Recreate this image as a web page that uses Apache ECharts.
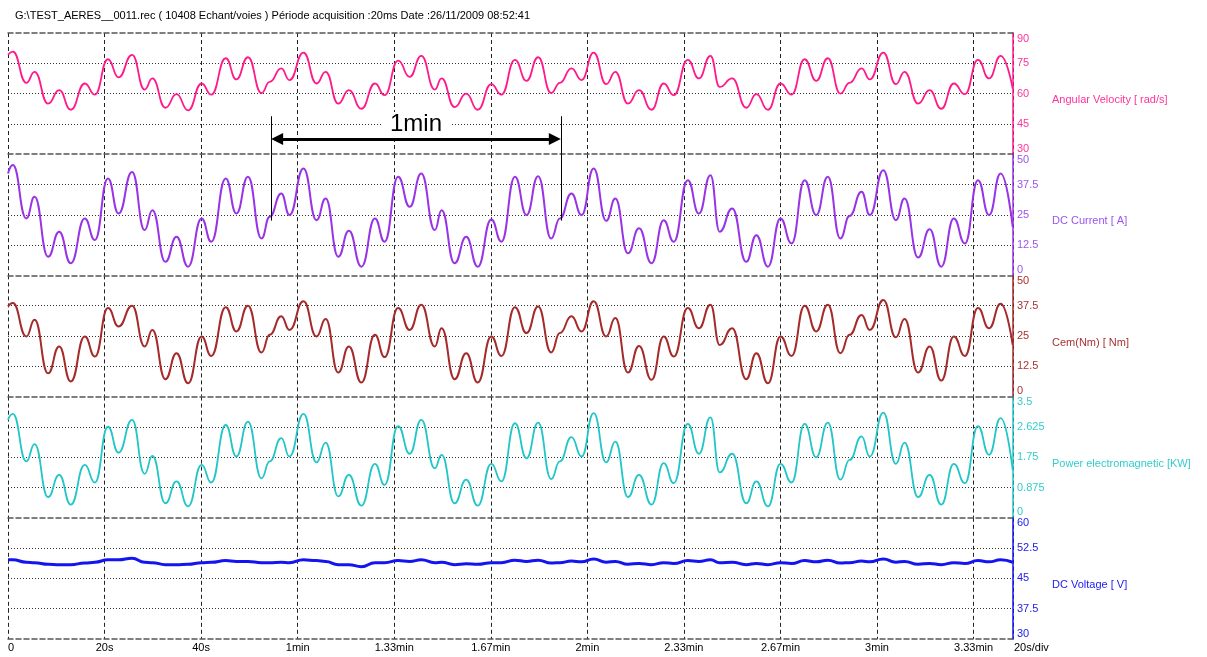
<!DOCTYPE html>
<html>
<head>
<meta charset="utf-8">
<script src="https://cdn.jsdelivr.net/npm/echarts@6/dist/echarts.min.js"></script>
<style>
html,body{margin:0;padding:0;background:#fff;}
#chart{width:1207px;height:657px;}
</style>
</head>
<body>
<div id="chart"></div>
<script>
// ---------------- DATA ----------------
const titleText = 'G:\\TEST_AERES__0011.rec ( 10408 Echant/voies ) Période acquisition :20ms Date :26/11/2009 08:52:41';

// time (s) of the sampled points (turning points of the recorded waveforms)
const times = [
  0, 1.0, 3.8, 5.5, 8.3, 10.6, 13.0, 15.9, 18.0, 20.7, 22.9, 25.7, 28.3, 29.9, 32.6, 34.9, 37.3, 40.1, 42.1, 45.1, 47.3, 49.7,
  52.5, 54.2, 56.6, 58.3, 61.2, 63.9, 65.8, 68.4, 70.6, 73.2, 76.0, 78.0, 80.8, 83.2, 85.6, 88.4, 89.8, 92.5, 94.9, 97.3, 100.1, 102.2,
  105.0, 107.4, 109.8, 112.5, 114.3, 116.7, 118.8, 121.3, 123.9, 125.8, 128.4, 130.7, 133.3, 135.8, 137.9, 140.8, 143.1, 145.5, 147.4, 150.0, 152.9, 155.0,
  157.4, 160.0, 162.3, 165.0, 167.4, 169.8, 172.4, 174.3, 176.8, 178.5, 181.3, 183.9, 185.7, 188.5, 190.9, 193.3, 195.9, 198.2, 200.9, 203.2, 205.6, 208.1
];

const angularVelocity = [
  79.2, 80.8, 65.3, 70.8, 55, 61.7, 52, 65, 59.5, 77, 68, 79.2, 62, 67.5, 53, 59.7, 51.7, 65, 59.5, 77.5, 67, 78,
  60.3, 65.8, 72.5, 66.7, 80.3, 65, 70.8, 55, 61.7, 52.5, 65, 59.2, 76.3, 68.3, 78.7, 62, 67.5, 53.3, 60, 52, 64.7, 59.5,
  76.7, 66.3, 78, 60.3, 65.3, 72.5, 66.7, 80.3, 64.7, 70.8, 55, 61.7, 52, 65, 59.2, 76.7, 67.5, 78.7, 63.3, 67.5, 53, 59.7,
  52, 65, 59.5, 77, 66.3, 77.5, 60, 65.3, 72.5, 67, 80.3, 64.7, 70.8, 55, 61.7, 52.5, 65, 59.7, 76.7, 67.5, 78.7, 62.5
];

const dcCurrent = [
  42, 45.5, 23.5, 32.4, 7.7, 18, 5, 23.5, 14.6, 40, 25.5, 42.7, 18.7, 26.9, 5.6, 15.9, 3.6, 23.5, 13.9, 40, 25.5, 40.7,
  15.2, 24.2, 33.8, 24.9, 44.1, 22.8, 31.7, 7.7, 18.4, 3.6, 23.5, 13.9, 40.7, 28.3, 42, 18.7, 26.9, 5, 15.9, 3.6, 23.1, 13.9,
  40.7, 24.9, 40.9, 15.2, 23.5, 33.8, 24.9, 44.1, 22.5, 31.7, 9.1, 19.4, 5, 22.8, 13.9, 39.3, 25.5, 41.3, 18, 27.6, 5.6, 16.6,
  3.6, 23.5, 13.2, 39.3, 24.9, 40.7, 15.2, 24.5, 34.5, 24.9, 43.4, 22.8, 31.7, 7.4, 19, 3.6, 23.5, 13.2, 39.3, 24.9, 42, 20
];

const torqueCem = [
  37.2, 38.6, 24.8, 31.7, 9.6, 20.7, 6.2, 24.8, 16.5, 36.5, 28.9, 37.5, 20.7, 27.5, 7.2, 17.9, 5.5, 24.8, 16.8, 36.9, 26.9, 37.5,
  18.2, 25.5, 33.1, 27.5, 39.3, 24.8, 32, 9.9, 20.7, 5.8, 25.5, 16.3, 36.5, 27.5, 37.9, 20.7, 28.2, 7.2, 17.9, 5.8, 24.8, 16.8,
  36.9, 26.2, 37.2, 18.2, 26.2, 33.1, 26.9, 39.3, 24.8, 32.4, 9.9, 20.9, 6.9, 24.8, 16.5, 36.5, 28.2, 37.9, 21.3, 28.2, 7.2, 17.9,
  5.5, 24.8, 16.8, 37.5, 26.9, 37.9, 17.9, 25.5, 33.7, 27.5, 39.9, 24.5, 32, 9.9, 20.7, 6.6, 24.8, 16.8, 36.5, 28.2, 38.3, 21.3
];

const powerEm = [
  2.83, 3.0, 1.63, 2.13, 0.6, 1.24, 0.38, 1.53, 1.02, 2.63, 1.88, 2.83, 1.27, 1.79, 0.42, 1.05, 0.33, 1.53, 1.02, 2.68, 1.77, 2.78,
  1.14, 1.63, 2.3, 1.77, 3.0, 1.6, 2.17, 0.62, 1.24, 0.35, 1.56, 0.95, 2.65, 1.85, 2.83, 1.43, 1.82, 0.42, 1.1, 0.35, 1.56, 1.05,
  2.73, 1.72, 2.75, 1.12, 1.63, 2.33, 1.77, 3.02, 1.6, 2.2, 0.6, 1.24, 0.38, 1.58, 1.0, 2.71, 1.85, 2.9, 1.31, 1.85, 0.42, 1.05,
  0.33, 1.56, 1.02, 2.71, 1.75, 2.75, 1.1, 1.67, 2.35, 1.77, 3.04, 1.56, 2.17, 0.6, 1.24, 0.38, 1.56, 1.0, 2.65, 1.82, 2.88, 1.38
];

const dcVoltage = [
  49.6, 49.6, 49.0, 48.9, 48.5, 48.4, 48.4, 48.8, 49.0, 49.6, 49.6, 50.0, 49.0, 48.9, 48.4, 48.4, 48.5, 48.9, 49.0, 49.4, 49.2, 49.2,
  48.9, 48.9, 49.0, 48.9, 49.6, 49.4, 49.2, 48.4, 48.4, 47.9, 48.9, 48.9, 49.4, 49.2, 49.6, 48.9, 49.0, 48.4, 48.6, 48.5, 48.9, 48.9,
  49.5, 49.2, 49.5, 48.8, 48.9, 49.3, 49.1, 49.8, 49.0, 49.2, 48.5, 48.7, 48.4, 48.9, 48.7, 49.4, 49.2, 49.6, 48.9, 49.0, 48.4, 48.7,
  48.4, 48.9, 48.7, 49.4, 49.1, 49.5, 48.8, 48.9, 49.3, 49.1, 49.8, 49.0, 49.2, 48.5, 48.7, 48.4, 48.9, 48.7, 49.4, 49.1, 49.6, 49.0
];

const xTickLabels = ['0', '20s', '40s', '1min', '1.33min', '1.67min', '2min', '2.33min', '2.67min', '3min', '3.33min'];
const xUnitLabel = '20s/div';
const totalSeconds = 208.16; // 10408 samples x 20 ms

const channelNames = ['Angular Velocity [ rad/s]', 'DC Current [ A]', 'Cem(Nm) [ Nm]', 'Power electromagnetic [KW]', 'DC Voltage [ V]'];
const channelValues = [angularVelocity, dcCurrent, torqueCem, powerEm, dcVoltage];
const axisMin = [30, 0, 0, 0, 30];
const axisMax = [90, 50, 50, 3.5, 60];
const axisStep = [15, 12.5, 12.5, 0.875, 7.5];

// annotation "1min" (seconds / axis values)
const spanStart = 54.5, spanEnd = 114.5;

// ---------------- STYLE / LAYOUT ----------------
const lineColors  = ['#ff1a8c', '#9933e6', '#a52a2a', '#22c6c8', '#1414f0'];
const labelColors = ['#ff3399', '#9a55ee', '#a83232', '#33cccc', '#2020ee'];
const FONT = '"Liberation Sans", Arial, sans-serif';
const TOP = 33, H = 121.2, LEFT = 8, AXIS_X = 1013, RIGHT = 1207 - AXIS_X;

const grids = [], xAxes = [], yAxes = [], series = [], graphics = [];
for (let i = 0; i < 5; i++) {
  grids.push({left: LEFT, right: RIGHT, top: TOP + i * H, height: H});
  const last = i === 4;
  xAxes.push({
    type: 'value', gridIndex: i, min: 0, max: totalSeconds, interval: 20,
    axisLine: {show: true, onZero: false, lineStyle: {color: '#555', width: 1.5, type: [5, 3]}},
    axisTick: {show: false},
    axisLabel: last ? {
      show: true, color: '#000', fontSize: 11, fontFamily: FONT, margin: 3,
      alignMinLabel: 'left',
      formatter: v => {
        const k = Math.round(v / 20);
        return (Math.abs(v - k * 20) < 1e-6 && xTickLabels[k] !== undefined) ? xTickLabels[k] : '';
      }
    } : {show: false},
    splitLine: {show: true, lineStyle: {color: '#222', width: 1, type: [4, 3]}}
  });
  yAxes.push({
    type: 'value', gridIndex: i, position: 'right',
    min: axisMin[i], max: axisMax[i], interval: axisStep[i],
    axisLine: {show: true, onZero: false, lineStyle: {color: lineColors[i], width: 1.5}},
    axisTick: {show: false},
    axisLabel: {
      color: labelColors[i], fontSize: 11, fontFamily: FONT, margin: 4,
      verticalAlignMinLabel: 'bottom', verticalAlignMaxLabel: 'top'
    },
    splitLine: {show: true, showMinLine: false, showMaxLine: false, lineStyle: {color: '#333', width: 1, type: [1, 2]}}
  });
  series.push({
    type: 'line', name: channelNames[i], xAxisIndex: i, yAxisIndex: i,
    data: times.map((t, k) => [t, channelValues[i][k]]),
    showSymbol: false, smooth: 0.5, smoothMonotone: 'x', animation: false,
    lineStyle: {color: lineColors[i], width: i === 4 ? 3 : (i === 1 || i === 2 ? 2 : 1.8)},
    itemStyle: {color: lineColors[i]}
  });
  graphics.push({
    type: 'text', left: AXIS_X + 39, top: TOP + i * H + H / 2 + 1,
    style: {text: channelNames[i], fill: labelColors[i], font: '11px ' + FONT}
  });
}
graphics.push({
  type: 'text', left: AXIS_X + 1, top: TOP + 5 * H + 3,
  style: {text: xUnitLabel, fill: '#000', font: '11px ' + FONT}
});
// top border of the first panel
xAxes.push({
  type: 'value', gridIndex: 0, position: 'top', min: 0, max: totalSeconds, interval: 20,
  axisLine: {show: true, onZero: false, lineStyle: {color: '#555', width: 1.5, type: [5, 3]}},
  axisTick: {show: false}, axisLabel: {show: false}, splitLine: {show: false}
});

// arrow-head length in seconds so that the tip sits on the vertical markers
const headSec = 6 / ((AXIS_X - LEFT) / totalSeconds);
series[0].markLine = {
  silent: true, animation: false, symbol: ['none', 'none'],
  label: {show: false},
  lineStyle: {color: '#000', type: 'solid', width: 1},
  data: [
    [
      {coord: [spanStart + headSec, 37.5], symbol: 'triangle', symbolSize: [12, 12],
       lineStyle: {color: '#000', width: 3, type: 'solid'},
       label: {show: true, formatter: '1min', position: 'insideMiddleTop', distance: 3,
               fontSize: 24, color: '#000', fontFamily: FONT, backgroundColor: '#fff', padding: [0, 8]}},
      {coord: [spanEnd - headSec, 37.5], symbol: 'triangle', symbolSize: [12, 12]}
    ],
    [{coord: [spanStart, 48.8]}, {coord: [spanStart, 30]}],
    [{coord: [spanEnd, 48.8]}, {coord: [spanEnd, 30]}]
  ]
};
series[1].markLine = {
  silent: true, animation: false, symbol: ['none', 'none'],
  label: {show: false},
  lineStyle: {color: '#000', type: 'solid', width: 1},
  data: [
    [{coord: [spanStart, 50]}, {coord: [spanStart, 22.6]}],
    [{coord: [spanEnd, 50]}, {coord: [spanEnd, 22.6]}]
  ]
};

const chart = echarts.init(document.getElementById('chart'), null, {renderer: 'canvas'});
chart.setOption({
  animation: false,
  backgroundColor: '#fff',
  textStyle: {fontFamily: FONT},
  title: {text: titleText, left: 15, top: 10, padding: 0,
          textStyle: {fontSize: 11, fontWeight: 'normal', color: '#000', fontFamily: FONT}},
  grid: grids, xAxis: xAxes, yAxis: yAxes, series: series,
  graphic: graphics
});
</script>
</body>
</html>
